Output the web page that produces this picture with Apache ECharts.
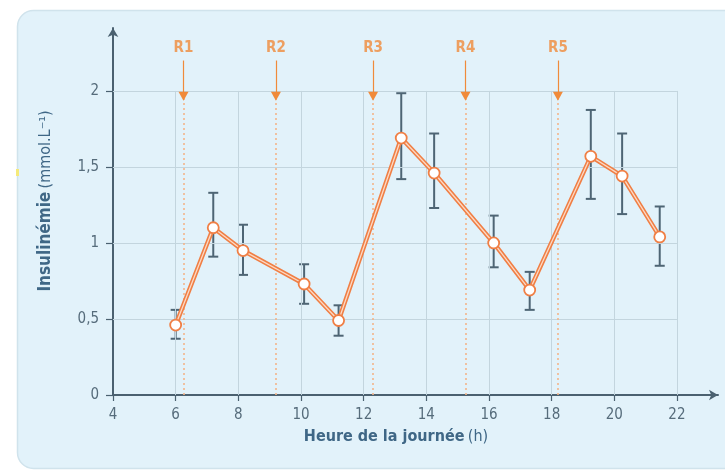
<!DOCTYPE html>
<html>
<head>
<meta charset="utf-8">
<script src="https://cdn.jsdelivr.net/npm/echarts@6/dist/echarts.min.js"></script>
<style>
  html, body { margin: 0; padding: 0; background: #ffffff; }
  #chart { width: 725px; height: 476px; }
</style>
</head>
<body>
<div id="chart"></div>
<script>
// Insulin level over the day (mean ± error), with the five meals R1–R5
const hours     = [6.0, 7.2, 8.15, 10.1, 11.2, 13.2, 14.25, 16.15, 17.3, 19.25, 20.25, 21.45];
const insulin   = [0.46, 1.10, 0.95, 0.73, 0.49, 1.69, 1.46, 1.00, 0.69, 1.57, 1.44, 1.04];
const errLow    = [0.37, 0.91, 0.79, 0.60, 0.39, 1.42, 1.23, 0.84, 0.56, 1.29, 1.19, 0.85];
const errHigh   = [0.56, 1.33, 1.12, 0.86, 0.59, 1.985, 1.72, 1.18, 0.81, 1.875, 1.72, 1.24];

// Meal times
const mealNames = ['R1', 'R2', 'R3', 'R4', 'R5'];
const mealHours = [6.25, 9.2, 12.3, 15.25, 18.2];

// Axis ticks
const xTicks = [4, 6, 8, 10, 12, 14, 16, 18, 20, 22];
const yTicks = [0, 0.5, 1, 1.5, 2];

const X_MIN = 4, X_MAX = 23.31, GRID_X_END = 22;
const Y_MIN = 0, Y_MAX = 2.414, GRID_Y_END = 2;

const FONT = '"Liberation Sans Narrow", "DejaVu Sans Condensed", "Roboto", sans-serif';
const AXIS_COLOR = '#4b6170';
const GRID_COLOR = '#c3d5de';
const ORANGE = '#f07f45';
const MEAL_ORANGE = '#f08a3a';
const LABEL_COLOR = '#566c7b';
const TITLE_COLOR = '#3f6786';

const gridLines = [];
yTicks.filter(v => v > 0).forEach(v => {
  gridLines.push([{ coord: [X_MIN, v] }, { coord: [GRID_X_END, v] }]);
});
xTicks.filter(v => v > X_MIN).forEach(v => {
  gridLines.push([{ coord: [v, Y_MIN] }, { coord: [v, GRID_Y_END] }]);
});

const mealLines = mealHours.map(h => [{ coord: [h, Y_MIN] }, { coord: [h, GRID_Y_END] }]);
const mealArrows = mealHours.map(h => [{ coord: [h, 2.2] }, { coord: [h, 1.965] }]);
const mealLabels = mealHours.map((h, i) => ({ value: [h, 2.285], name: mealNames[i] }));

const points = hours.map((h, i) => [h, insulin[i]]);
const bars = hours.map((h, i) => [h, errLow[i], errHigh[i]]);

const chart = echarts.init(document.getElementById('chart'), null, { renderer: 'canvas' });

chart.setOption({
  animation: false,
  backgroundColor: '#ffffff',
  textStyle: { fontFamily: FONT },
  graphic: [
    {
      type: 'rect', z: -100, silent: true,
      shape: { x: 17.5, y: 10.5, width: 740, height: 458, r: 16 },
      style: { fill: '#e2f2fa', stroke: '#d0e3ec', lineWidth: 1.5 }
    },
    {
      type: 'rect', z: -90, silent: true,
      shape: { x: 16, y: 169, width: 3, height: 7 },
      style: { fill: '#f5ea7a' }
    },
    {
      type: 'text', silent: true,
      x: 46, y: 201, rotation: Math.PI / 2,
      style: {
        text: '{b|Insulinémie} {n|(mmol.L⁻¹)}',
        align: 'center', verticalAlign: 'middle',
        rich: {
          b: { fontFamily: FONT, fontSize: 17, fontWeight: 'bold', fill: TITLE_COLOR },
          n: { fontFamily: FONT, fontSize: 16, fontWeight: 'normal', fill: TITLE_COLOR }
        }
      }
    },
    {
      type: 'text', silent: true,
      x: 396, y: 437,
      style: {
        text: '{b|Heure de la journée} {n|(h)}',
        align: 'center', verticalAlign: 'middle',
        rich: {
          b: { fontFamily: FONT, fontSize: 16, fontWeight: 'bold', fill: TITLE_COLOR },
          n: { fontFamily: FONT, fontSize: 16, fontWeight: 'normal', fill: TITLE_COLOR }
        }
      }
    }
  ],
  grid: { left: 113, right: 7, top: 28, bottom: 81, containLabel: false },
  xAxis: {
    type: 'value', min: X_MIN, max: X_MAX, interval: 2,
    axisLine: {
      show: true, onZero: false,
      symbol: ['none', 'arrow'], symbolSize: [8, 9],
      lineStyle: { color: AXIS_COLOR, width: 2 }
    },
    axisTick: { show: true, length: 6, customValues: xTicks, lineStyle: { color: AXIS_COLOR, width: 1.2 } },
    axisLabel: {
      show: true, customValues: xTicks, margin: 13,
      color: LABEL_COLOR, fontFamily: FONT, fontSize: 15
    },
    splitLine: { show: false }
  },
  yAxis: {
    type: 'value', min: Y_MIN, max: Y_MAX, interval: 0.5,
    axisLine: {
      show: true, onZero: false,
      symbol: ['none', 'arrow'], symbolSize: [8, 9],
      lineStyle: { color: AXIS_COLOR, width: 2 }
    },
    axisTick: { show: true, length: 7, customValues: yTicks, lineStyle: { color: AXIS_COLOR, width: 1.2 } },
    axisLabel: {
      show: true, customValues: yTicks, margin: 14,
      color: LABEL_COLOR, fontFamily: FONT, fontSize: 15,
      formatter: v => String(v).replace('.', ',')
    },
    splitLine: { show: false }
  },
  series: [
    {
      // light grid
      type: 'line', data: [], silent: true, z: 1,
      markLine: {
        silent: true, symbol: 'none', animation: false,
        label: { show: false },
        lineStyle: { color: GRID_COLOR, type: 'solid', width: 1 },
        data: gridLines
      }
    },
    {
      // meal times: dotted verticals and arrows
      type: 'line', data: [], silent: true, z: 2,
      markLine: {
        silent: true, symbol: 'none', animation: false,
        label: { show: false },
        lineStyle: { color: '#f3b48a', type: [2, 3], width: 1.6 },
        data: mealLines
      }
    },
    {
      type: 'line', data: [], silent: true, z: 3,
      markLine: {
        silent: true, symbol: ['none', 'triangle'], symbolSize: [10, 9], animation: false,
        label: { show: false },
        lineStyle: { color: MEAL_ORANGE, type: 'solid', width: 1.2 },
        data: mealArrows
      }
    },
    {
      type: 'scatter', data: mealLabels, symbolSize: 0, silent: true, z: 3,
      label: {
        show: true, position: 'inside', formatter: p => p.name,
        color: MEAL_ORANGE, fontFamily: FONT, fontSize: 15, fontWeight: 'bold'
      }
    },
    {
      // error bars
      type: 'custom', data: bars, z: 4, silent: true,
      renderItem: function (params, api) {
        const x = api.value(0);
        const lo = api.coord([x, api.value(1)]);
        const hi = api.coord([x, api.value(2)]);
        const cap = 5;
        const style = { stroke: '#4e6574', lineWidth: 2 };
        return {
          type: 'group',
          children: [
            { type: 'line', shape: { x1: lo[0], y1: lo[1], x2: hi[0], y2: hi[1] }, style },
            { type: 'line', shape: { x1: hi[0] - cap, y1: hi[1], x2: hi[0] + cap, y2: hi[1] }, style },
            { type: 'line', shape: { x1: lo[0] - cap, y1: lo[1], x2: lo[0] + cap, y2: lo[1] }, style }
          ]
        };
      }
    },
    {
      // insulin curve, outer stroke
      type: 'line', data: points, z: 5, silent: true,
      symbol: 'none',
      lineStyle: { color: ORANGE, width: 4.5 }
    },
    {
      // pale core of the curve, with point markers
      type: 'line', data: points, z: 6, silent: true,
      symbol: 'circle', symbolSize: 11,
      itemStyle: { color: '#ffffff', borderColor: ORANGE, borderWidth: 1.8 },
      lineStyle: { color: '#fcd9c4', width: 1.3 }
    }
  ]
});
</script>
</body>
</html>
